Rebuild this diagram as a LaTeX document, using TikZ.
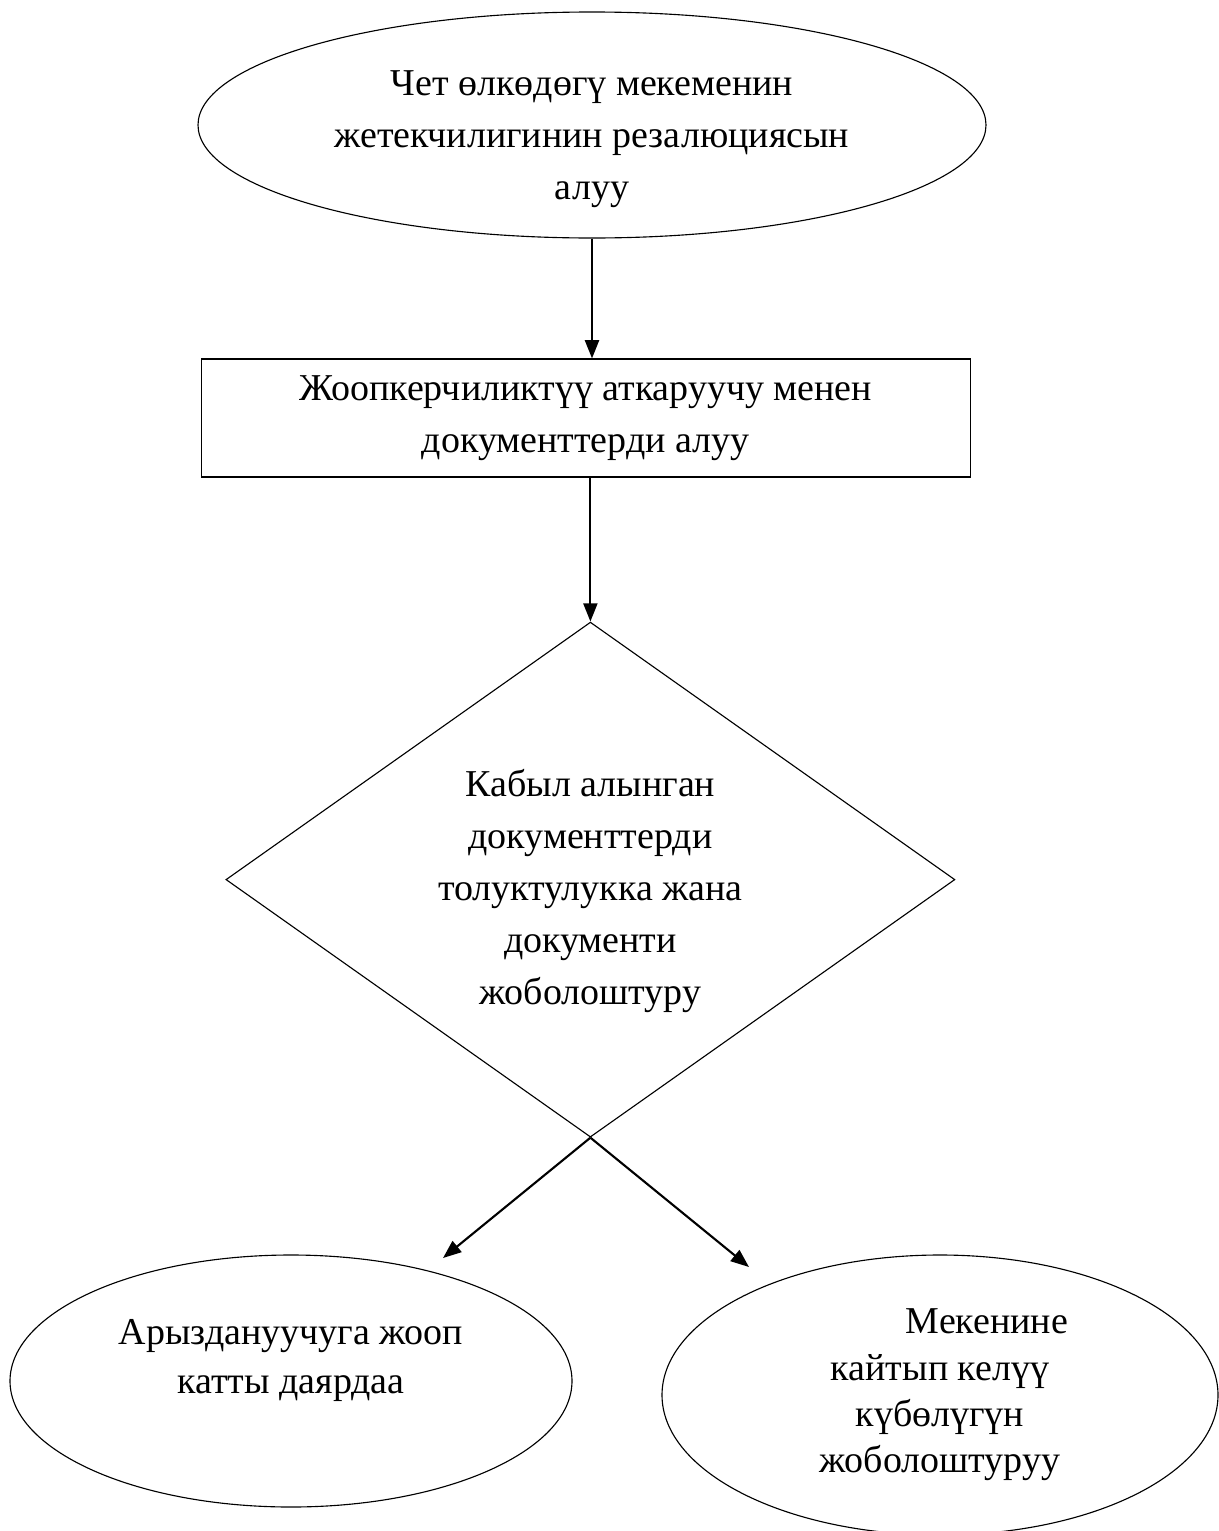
\documentclass[tikz,border=0pt]{standalone}
\usepackage{fontspec}
\setmainfont{Liberation Serif}
\newfontfamily\kgserif{Liberation Serif}
\usepackage{tikz}
\usetikzlibrary{arrows.meta,shapes.geometric}
\tikzset{
    blob/.style={draw, ellipse, line width=0.8pt, inner sep=0pt, align=center},
    stepbox/.style={draw, rectangle, line width=0.8pt, inner sep=0pt, align=center},
    checkbox/.style={draw, diamond, line width=0.8pt, inner sep=0pt, aspect=1.42, align=center},
    flow/.style={-{Triangle[length=13pt,width=10pt]}, line width=1.5pt}
}

\begin{document}
\begin{tikzpicture}[scale=1.0, font=\kgserif\fontsize{27}{37}\selectfont]
    \useasboundingbox (0,0) rectangle (30.45,-38.275);

    % TOP: Resolution
    \node[blob, inner ysep=-20pt, minimum width=19.7cm, minimum height=5.65cm] (resol) at (14.8,-3.125)
        {\rule{0pt}{38pt}Чет өлкөдөгү мекеменин\\жетекчилигинин резалюциясын\\алуу};

    % MIDDLE: Documents received
    \node[stepbox, minimum width=19.225cm, minimum height=2.95cm] (recv) at (14.64,-10.45)
        {Жоопкерчиликтүү аткаруучу менен\\документтерди алуу};

    \node[checkbox, minimum width=18.225cm, minimum height=12.875cm] (check) at (14.76,-21.99)
        {\rule{0pt}{36pt}Кабыл алынган\\документтерди\\толуктулукка жана\\документи\\жоболоштуру};

    \draw[flow] (resol.south) -- (resol.south |- recv.north);
    \draw[flow] (recv.south -| check.north) -- (check.north);

    % BOTTOM: Two outcomes
    \node[blob, minimum width=14.05cm, minimum height=6.3cm,
          font=\kgserif\fontsize{27}{35}\selectfont] (reply) at (7.275,-34.525)
        {Арыздануучуга жооп\\катты даярдаа\\\mbox{}};
    \node[blob, minimum width=13.9cm, minimum height=7.0cm,
          font=\kgserif\fontsize{27}{33}\selectfont] (cert) at (23.5,-34.875)
        {\hspace*{2.35cm}Мекенине\\кайтып келүү\\күбөлүгүн\\жоболоштуруу};

    \coordinate (replytip) at (11.075,-31.45);
    \coordinate (certtip) at (18.725,-31.675);
    \draw[flow] (check.south) -- (replytip);
    \draw[flow] (check.south) -- (certtip);
\end{tikzpicture}
\end{document}
